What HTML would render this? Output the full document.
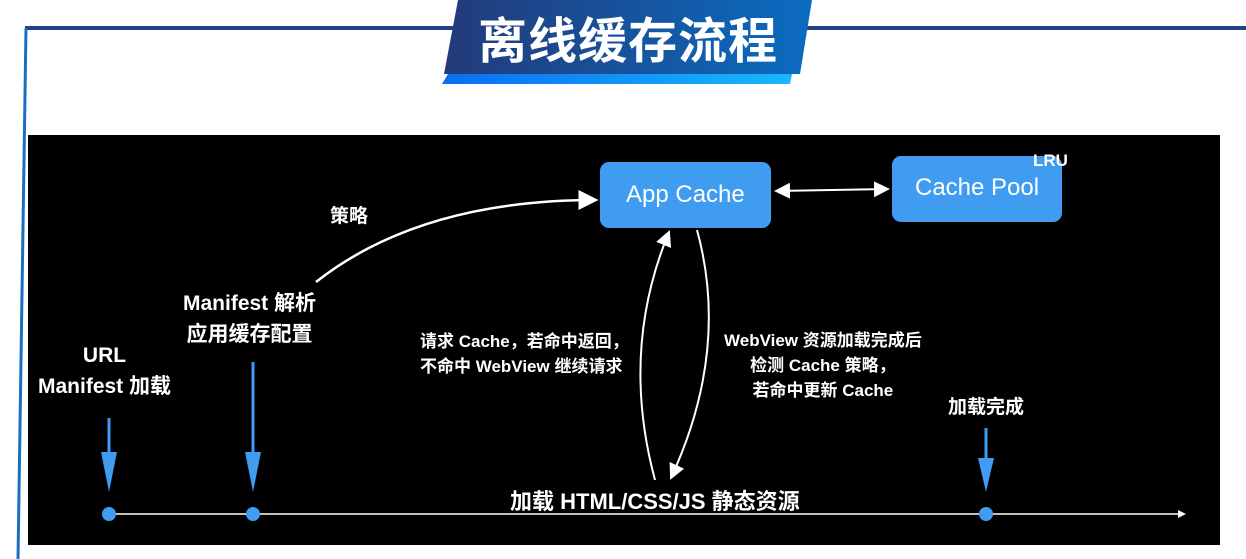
<!DOCTYPE html>
<html><head><meta charset="utf-8"><style>
body{margin:0;width:1246px;height:559px;background:#fff;position:relative;overflow:hidden;font-family:"Liberation Sans","Noto Sans CJK SC",sans-serif}
.t{position:absolute;color:#fff;white-space:nowrap;font-weight:bold}
</style></head><body>
<svg width="1246" height="559" style="position:absolute;left:0;top:0">
<defs>
<linearGradient id="g1" x1="0" x2="1"><stop offset="0" stop-color="#233a7a"/><stop offset="1" stop-color="#0a6cc0"/></linearGradient>
<linearGradient id="g2" x1="0" x2="1"><stop offset="0" stop-color="#0a6ef0"/><stop offset="1" stop-color="#18b8ff"/></linearGradient>
<marker id="a" markerWidth="8" markerHeight="8" refX="7" refY="4" orient="auto"><path d="M0,0L8,4L0,8z" fill="#fff"/></marker>
<marker id="b" markerWidth="8" markerHeight="8" refX="1" refY="4" orient="auto"><path d="M8,0L0,4L8,8z" fill="#fff"/></marker>
</defs>
<line x1="25" y1="28" x2="1246" y2="28" stroke="#24408a" stroke-width="4"/>
<line x1="26" y1="28" x2="18" y2="559" stroke="#1a6fc0" stroke-width="3"/>
<polygon points="448,74 442,84 790,84 792,74" fill="url(#g2)"/>
<polygon points="458,0 812,0 800,74 444,74" fill="url(#g1)"/>
<rect x="28" y="135" width="1192" height="410" fill="#000"/>
<rect x="600" y="162" width="171" height="66" rx="9" fill="#3f9cf0"/>
<rect x="892" y="156" width="170" height="66" rx="9" fill="#3f9cf0"/>
<line x1="776" y1="191" x2="888" y2="189" stroke="#fff" stroke-width="2" marker-start="url(#b)" marker-end="url(#a)"/>
<path d="M316,282 Q420,200 596,200" stroke="#fff" stroke-width="2.5" fill="none" marker-end="url(#a)"/>
<path d="M655,480 Q620,350 669,232" stroke="#fff" stroke-width="2" fill="none" marker-end="url(#a)"/>
<path d="M697,230 Q730,350 671,478" stroke="#fff" stroke-width="2" fill="none" marker-end="url(#a)"/>
<line x1="110" y1="514" x2="1182" y2="514" stroke="#fff" stroke-width="1.5"/>
<path d="M1178,510L1186,514L1178,518z" fill="#fff"/>
<g stroke="#3f9cf0" stroke-width="3"><line x1="109" y1="418" x2="109" y2="478"/><line x1="253" y1="362" x2="253" y2="478"/><line x1="986" y1="428" x2="986" y2="478"/></g>
<g fill="#3f9cf0"><path d="M101,452L109,492L117,452z"/><path d="M245,452L253,492L261,452z"/><path d="M978,458L986,492L994,458z"/>
<circle cx="109" cy="514" r="7"/><circle cx="253" cy="514" r="7"/><circle cx="986" cy="514" r="7"/></g>
</svg>
<div class="t" style="left:478px;top:2px;font-size:49px;letter-spacing:1px">离线缓存流程</div>
<div class="t" style="left:626px;top:181px;font-size:24px;font-weight:normal">App Cache</div>
<div class="t" style="left:915px;top:174px;font-size:24px;font-weight:normal">Cache Pool</div>
<div class="t" style="left:1033px;top:151px;font-size:17px">LRU</div>
<div class="t" style="left:330px;top:201px;font-size:19px">策略</div>
<div class="t" style="left:183px;top:288px;font-size:21px;text-align:center;line-height:31px">Manifest 解析<br>应用缓存配置</div>
<div class="t" style="left:38px;top:340px;font-size:21px;text-align:center;line-height:31px">URL<br>Manifest 加载</div>
<div class="t" style="left:420px;top:329px;font-size:17px;line-height:25px">请求 Cache，若命中返回，<br>不命中 WebView 继续请求</div>
<div class="t" style="left:724px;top:328px;font-size:17px;line-height:25px;text-align:center">WebView 资源加载完成后<br>检测 Cache 策略，<br>若命中更新 Cache</div>
<div class="t" style="left:948px;top:392px;font-size:19px">加载完成</div>
<div class="t" style="left:510px;top:484px;font-size:22px">加载 HTML/CSS/JS 静态资源</div>
</body></html>
